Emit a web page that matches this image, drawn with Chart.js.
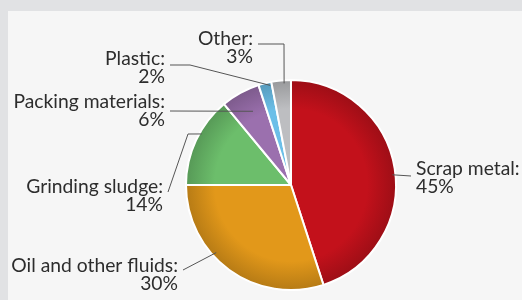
<!DOCTYPE html>
<html>
<head>
<meta charset="utf-8">
<script src="https://cdn.jsdelivr.net/npm/chart.js@4.4.1/dist/chart.umd.min.js"></script>
<style>
    html, body { margin: 0; padding: 0; }
    body { width: 522px; height: 300px; background: #e1e2e4; position: relative; overflow: hidden; }
    .panel { position: absolute; left: 8px; top: 11px; right: 0; bottom: 0; background: #f6f6f6; }
    .wrap { position: absolute; left: 0; top: 0; width: 522px; height: 300px; }
</style>
</head>
<body>
<div class="panel"></div>
<div class="wrap"><canvas id="chart"></canvas></div>
<script>
const categories = ['Scrap metal', 'Oil and other fluids', 'Grinding sludge', 'Packing materials', 'Plastic', 'Other'];
const shares = [45, 30, 14, 6, 2, 3];
const colors = ['#c3111b', '#e2981a', '#6cbe6b', '#9b70ae', '#6bbfe8', '#bdbec1'];

// label placement: text baseline, alignment, elbow points of the leader line,
// and where the line touches the slice (t = share of the arc, r = share of the radius)
const labelLayout = [
    { x: 416, y: 175, align: 'left',  path: [[411, 176]],             t: 0.52, r: 0.97 },
    { x: 178, y: 272, align: 'right', path: [[183, 270]],             t: 0.61, r: 0.96 },
    { x: 163, y: 193, align: 'right', path: [[188, 134], [168, 192]], t: 0.59, r: 0.98 },
    { x: 165, y: 108, align: 'right', path: [[170, 111]],             t: 0.57, r: 0.79 },
    { x: 165, y: 65,  align: 'right', path: [[190, 65], [170, 65]],   t: 0.85, r: 0.97 },
    { x: 253, y: 45,  align: 'right', path: [[284, 44], [258, 44]],   t: 0.64, r: 0.97 }
];

const FONT = '19.3px Lato, "Open Sans", sans-serif';

function shade(hex, f) {
    const n = parseInt(hex.slice(1), 16);
    const r = Math.round(((n >> 16) & 255) * f);
    const g = Math.round(((n >> 8) & 255) * f);
    const b = Math.round((n & 255) * f);
    return `rgb(${r},${g},${b})`;
}

function sliceFill(ctx) {
    const base = colors[ctx.dataIndex];
    const area = ctx.chart.chartArea;
    if (!area) return base;
    const cx = (area.left + area.right) / 2;
    const cy = (area.top + area.bottom) / 2;
    const R = Math.min(area.width, area.height) / 2;
    const g = ctx.chart.ctx.createRadialGradient(cx, cy, 0, cx, cy, R);
    g.addColorStop(0, base);
    g.addColorStop(0.72, base);
    g.addColorStop(1, shade(base, 0.8));
    return g;
}

const leaderLabels = {
    id: 'leaderLabels',
    afterDraw(chart) {
        const ctx = chart.ctx;
        const arcs = chart.getDatasetMeta(0).data;
        ctx.save();
        arcs.forEach((arc, i) => {
            const lay = labelLayout[i];
            const a = arc.startAngle + (arc.endAngle - arc.startAngle) * lay.t;
            const ax = arc.x + Math.cos(a) * arc.outerRadius * lay.r;
            const ay = arc.y + Math.sin(a) * arc.outerRadius * lay.r;

            ctx.strokeStyle = '#555';
            ctx.lineWidth = 1;
            ctx.beginPath();
            ctx.moveTo(ax, ay);
            lay.path.forEach(p => ctx.lineTo(p[0], p[1]));
            ctx.stroke();

            ctx.fillStyle = '#2d2d2d';
            ctx.font = FONT;
            ctx.textAlign = lay.align;
            ctx.textBaseline = 'alphabetic';
            ctx.fillText(categories[i] + ':', lay.x, lay.y);
            ctx.fillText(shares[i] + '%', lay.x, lay.y + 18);
        });
        ctx.restore();
    }
};

new Chart(document.getElementById('chart'), {
    type: 'pie',
    data: {
        labels: categories,
        datasets: [{
            data: shares,
            backgroundColor: sliceFill,
            borderColor: '#ffffff',
            borderWidth: 2
        }]
    },
    options: {
        responsive: true,
        maintainAspectRatio: false,
        animation: false,
        layout: { padding: { left: 185, right: 125, top: 79, bottom: 9 } },
        plugins: {
            legend: { display: false },
            tooltip: { enabled: false }
        }
    },
    plugins: [leaderLabels]
});
</script>
</body>
</html>
